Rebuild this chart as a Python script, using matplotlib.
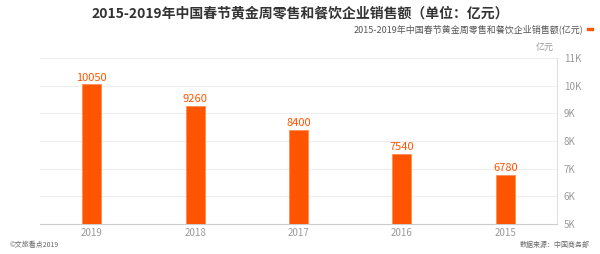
import matplotlib
matplotlib.use("Agg")
import matplotlib.pyplot as plt
from matplotlib.ticker import FixedLocator

plt.rcParams['font.family'] = ['Noto Sans CJK SC', 'DejaVu Sans']

categories = ['2019', '2018', '2017', '2016', '2015']
values = [10050, 9260, 8400, 7540, 6780]
yticks = [5000, 6000, 7000, 8000, 9000, 10000, 11000]
ytick_labels = ['5K', '6K', '7K', '8K', '9K', '10K', '11K']

title = '2015-2019年中国春节黄金周零售和餐饮企业销售额（单位：亿元）'
series_name = '2015-2019年中国春节黄金周零售和餐饮企业销售额(亿元)'
unit = '亿元'
source = '数据来源：中国商务部'
credit = '©文旅看点2019'

bar_color = '#ff5500'

fig = plt.figure(figsize=(6, 2.54), dpi=100)
ax = fig.add_axes([40/600, 1-224/254, 517/600, 166/254])

x = range(len(categories))
ax.bar(x, values, width=0.185, bottom=0, color=bar_color, edgecolor='#ff8a55', linewidth=0.6, zorder=3)
for i, v in zip(x, values):
    ax.text(i, v + 60, str(v), ha='center', va='bottom', color=bar_color, fontsize=8, zorder=4)

ax.set_xlim(-0.5, len(categories) - 0.5)
ax.set_ylim(5000, 11000)
ax.yaxis.set_major_locator(FixedLocator(yticks))
ax.set_yticklabels(ytick_labels)
ax.yaxis.tick_right()
ax.set_xticks(list(x))
ax.set_xticklabels(categories)
ax.tick_params(axis='both', length=0, labelsize=7, colors='#999999')
ax.tick_params(axis='y', pad=5)
ax.tick_params(axis='x', pad=3)
ax.grid(axis='y', color='#eeeeee', linewidth=0.8, zorder=0)
for s in ['top', 'left']:
    ax.spines[s].set_visible(False)
ax.spines['right'].set_color('#e0e0e0')
ax.spines['right'].set_linewidth(0.8)
ax.spines['bottom'].set_color('#cccccc')
ax.spines['bottom'].set_linewidth(0.8)

fig.text(0.5, 1-13/254, title, ha='center', va='center', fontsize=10, fontweight='bold', color='#333333')
fig.text(583/600, 1-29/254, series_name, ha='right', va='center', fontsize=6.5, color='#555555')
fig.patches.append(plt.Rectangle((587/600, 1-30/254), 6/600, 2/254, transform=fig.transFigure, color=bar_color, figure=fig))
fig.text(545/600, 1-47/254, unit, ha='center', va='center', fontsize=6.5, color='#999999')
fig.text(590/600, 1-245/254, source, ha='right', va='center', fontsize=5, color='#666666')
fig.text(10/600, 1-245/254, credit, ha='left', va='center', fontsize=5, color='#666666')

fig.savefig('out.png', dpi=100, facecolor='white')
